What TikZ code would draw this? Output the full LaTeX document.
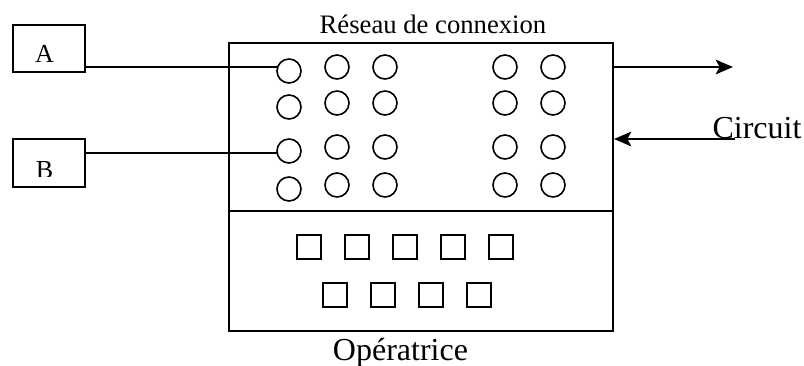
\documentclass[tikz,border=0pt]{standalone}
\usepackage{fontspec}
\setmainfont{Liberation Serif}
\usetikzlibrary{arrows.meta}
\tikzset{
  every node/.style={inner sep=0pt,outer sep=0pt},
  boxed/.style={draw,line width=1.5pt,anchor=north west,minimum width=#1},
  boxed/.default={72*0.75pt},
  hole/.style={draw,circle,line width=1.2pt,minimum size=18pt},
  cell/.style={draw,rectangle,line width=1.35pt,minimum size=18.5pt},
  wire/.style={line width=1.4pt},
  flow/.style={line width=1.4pt,-{Stealth[length=13pt,width=11pt,inset=3pt]}},
  small/.style={font=\fontsize{20pt}{22pt}\selectfont,anchor=base},
  big/.style={font=\fontsize{24pt}{26pt}\selectfont,anchor=base},
  letter/.style={font=\fontsize{19.5pt}{22pt}\selectfont,anchor=base},
}
\begin{document}
\begin{tikzpicture}[x=0.75pt,y=-0.75pt]
\useasboundingbox (0,0) rectangle (804,365);
% source boxes
\node[boxed,minimum height=35.25pt] (A) at (13,25) {};
\node[boxed,minimum height=36pt] (B) at (13,139) {};
\node[letter] (la) at (44.5,62) {A};
\begin{scope}
  \clip (13,150) rectangle (85,176);
  \node[letter] (lb) at (44.5,178) {B};
\end{scope}
% main blocks
\node[boxed=288pt,minimum height=126pt] (net) at (229,43) {};
\node[boxed=288pt,minimum height=90pt] (op) at (229,211) {};
% holes
\foreach \n/\y in {a/71,b/107,c/151,d/189}
  \node[hole,fill=white] (h1\n) at (289,\y) {};
\foreach \x/\c in {337/2,385/3,505/4,553/5}
  \foreach \n/\y in {a/67,b/103,c/147,d/185}
    \node[hole] (h\c\n) at (\x,\y) {};
% cells
\foreach \x [count=\i] in {309,357,405,453,501}
  \node[cell] (s\i) at (\x,247) {};
\foreach \x [count=\i] in {335,383,431,479}
  \node[cell] (t\i) at (\x,295) {};
% connectors
\coordinate (aout) at (85,67);
\coordinate (bout) at (85,153);
\coordinate (netouta) at (613,67);
\coordinate (outend) at (733,67);
\coordinate (inbeg) at (735,139);
\coordinate (netina) at (614,139);
\draw[wire] (aout) -- (aout -| h1a.west);
\draw[wire] (bout) -- (bout -| h1c.west);
\draw[flow] (netouta) -- (outend);
\draw[flow] (inbeg) -- (netina);
% labels
\node[small] (t1) at (433,33) {Réseau de connexion};
\node[big] (t2) at (757,138) {Circuit};
\node[big] (t3) at (400.5,360) {Opératrice};
\end{tikzpicture}
\end{document}
